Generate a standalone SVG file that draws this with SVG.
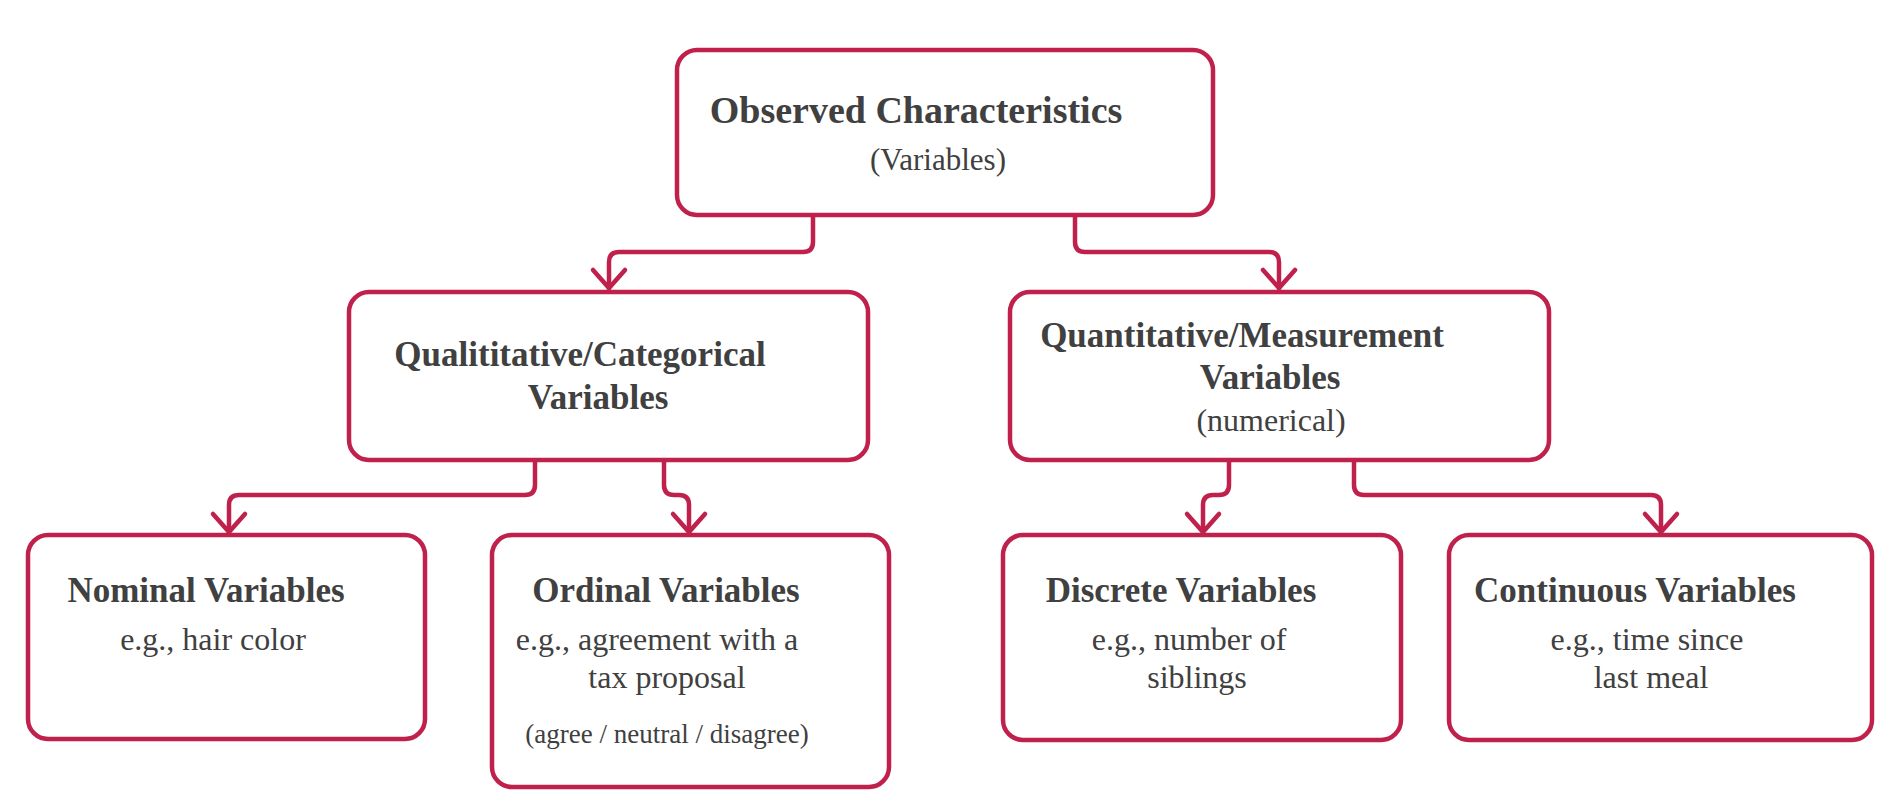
<svg xmlns="http://www.w3.org/2000/svg" width="1900" height="802" viewBox="0 0 1900 802">
<style>
.box{fill:#ffffff;stroke:#C0214C;stroke-width:4.5}
.con{fill:none;stroke:#C0214C;stroke-width:4.5;stroke-linecap:round;stroke-linejoin:round}
text{font-family:"Liberation Serif","Times New Roman",serif;fill:#404040;text-anchor:middle}
.h{font-weight:bold;font-size:35px}
.t{font-weight:bold;font-size:38px}
.b{font-size:32px}
.s{font-size:27px}
</style>
<defs>
<marker id="arr" markerUnits="userSpaceOnUse" markerWidth="40" markerHeight="40" viewBox="-22 -20 26 40" refX="0" refY="0" orient="auto">
<path d="M-18,-16 L0,0 L-18,16" fill="none" stroke="#C0214C" stroke-width="4.5" stroke-linecap="round" stroke-linejoin="miter"/>
</marker>
</defs>
<rect width="1900" height="802" fill="#ffffff"/>
<g id="connectors">
<path class="con" marker-end="url(#arr)" d="M813,217 V242 Q813,252 803,252 H619 Q609,252 609,262 V288"/>
<path class="con" marker-end="url(#arr)" d="M1075,217 V242 Q1075,252 1085,252 H1269 Q1279,252 1279,262 V288"/>
<path class="con" marker-end="url(#arr)" d="M535,462 V485 Q535,495 525,495 H239 Q229,495 229,505 V532"/>
<path class="con" marker-end="url(#arr)" d="M664,462 V485 Q664,495 674,495 H679 Q689,495 689,505 V532"/>
<path class="con" marker-end="url(#arr)" d="M1229,462 V485 Q1229,495 1219,495 H1213 Q1203,495 1203,505 V532"/>
<path class="con" marker-end="url(#arr)" d="M1354,462 V485 Q1354,495 1364,495 H1651 Q1661,495 1661,505 V532"/>
</g>
<g id="observed">
<rect class="box" x="677" y="50" width="536" height="165" rx="20"/>
<text class="t" x="916" y="123">Observed Characteristics</text>
<text class="b" x="938" y="170" style="font-size:31px">(Variables)</text>
</g>
<g id="qualitative">
<rect class="box" x="349" y="292" width="519" height="168" rx="20"/>
<text class="h" x="580" y="366">Qualititative/Categorical</text>
<text class="h" x="598" y="409">Variables</text>
</g>
<g id="quantitative">
<rect class="box" x="1010" y="292" width="539" height="168" rx="20"/>
<text class="h" x="1242" y="347">Quantitative/Measurement</text>
<text class="h" x="1270" y="389">Variables</text>
<text class="b" x="1271" y="431">(numerical)</text>
</g>
<g id="nominal">
<rect class="box" x="28" y="535" width="397" height="204" rx="20"/>
<text class="h" x="206" y="602">Nominal Variables</text>
<text class="b" x="213" y="650">e.g., hair color</text>
</g>
<g id="ordinal">
<rect class="box" x="492" y="535" width="397" height="252" rx="20"/>
<text class="h" x="666" y="602">Ordinal Variables</text>
<text class="b" x="657" y="650">e.g., agreement with a</text>
<text class="b" x="667" y="688">tax proposal</text>
<text class="s" x="667" y="743">(agree / neutral / disagree)</text>
</g>
<g id="discrete">
<rect class="box" x="1003" y="535" width="398" height="205" rx="20"/>
<text class="h" x="1181" y="602">Discrete Variables</text>
<text class="b" x="1189" y="650">e.g., number of</text>
<text class="b" x="1197" y="688">siblings</text>
</g>
<g id="continuous">
<rect class="box" x="1449" y="535" width="423" height="205" rx="20"/>
<text class="h" x="1635" y="602">Continuous Variables</text>
<text class="b" x="1647" y="650">e.g., time since</text>
<text class="b" x="1651" y="688">last meal</text>
</g>
</svg>
